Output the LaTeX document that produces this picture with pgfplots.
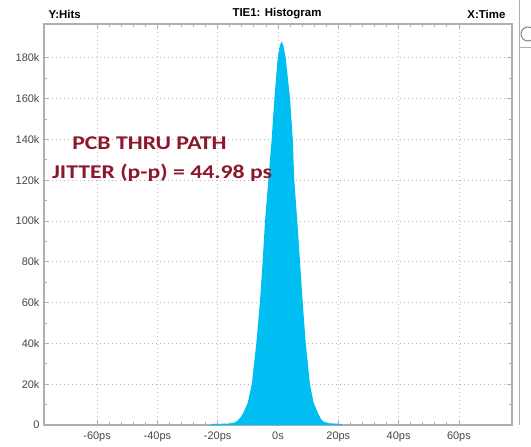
\documentclass[border=0pt]{standalone}
\usepackage{fontspec}
\setmainfont{Liberation Sans}
\newfontfamily\calib{Carlito}
\usepackage{pgfplots}
\pgfplotsset{compat=1.18}
\definecolor{histc}{RGB}{0,190,242}
\definecolor{annot}{RGB}{140,22,42}
\definecolor{axgray}{RGB}{175,175,175}
\definecolor{lblgray}{RGB}{70,70,70}
\begin{document}
\begin{tikzpicture}[x=1bp,y=1bp]
\useasboundingbox (-44bp,-22bp) rectangle (487bp,425bp);
\begin{axis}[at={(0,0)}, anchor=south west, scale only axis,
  width=468bp, height=401bp,
  xmin=-77.6, xmax=77.6, ymin=0, ymax=196600,
  xtick={-60,-40,...,60}, xticklabels={-60ps,-40ps,-20ps,0s,20ps,40ps,60ps},
  ytick={0,20000,...,180000}, yticklabels={0,20k,40k,60k,80k,100k,120k,140k,160k,180k},
  scaled y ticks=false,
  minor x tick num=4, minor y tick num=1,
  tick align=inside, major tick length=5bp, minor tick length=3bp,
  tick style={axgray, line width=0.8bp},
  grid=major, grid style={dash pattern=on 1bp off 3bp, gray!55, line width=0.8bp},
  axis line style={axgray, line width=1.2bp},
  tick label style={font=\fontsize{11}{13}\selectfont, text=lblgray},
  xticklabel style={yshift=-3bp},
  yticklabel style={xshift=-1bp},
]
\addplot[fill=histc, draw=none] coordinates {
(-22.5,0) (-22,500) (-16,700) (-14.5,1200) (-13.7,1800) (-12.5,3500) (-11.5,6000)
(-10,11000) (-8.7,20000) (-7.2,40000) (-6.0,60000) (-5.1,80000) (-4.3,100000)
(-3.2,120000) (-2.1,140000) (-1.2,160000) (-0.1,180000) (0.6,186000) (1.2,188000)
(1.8,186000) (2.55,180000) (4.0,160000) (4.9,140000) (5.4,120000) (6.4,100000)
(7.3,80000) (8.2,60000) (9.2,40000) (10.6,20000) (11.8,11000) (13.2,6000)
(14.2,3000) (15.0,1800) (16.5,900) (21,500) (21.5,0)
} \closedcycle;
\node[anchor=west, text=annot, xscale=1.22, inner sep=0pt, font=\calib\bfseries\fontsize{19.5}{22}\selectfont] at (axis cs:-68.3,138200) {PCB THRU PATH};
\node[anchor=west, text=annot, xscale=1.22, inner sep=0pt, font=\calib\bfseries\fontsize{19.5}{22}\selectfont] at (axis cs:-75.0,123500) {JITTER (p-p) = 44.98 ps};
\end{axis}
\node[anchor=west, font=\bfseries\fontsize{11.5}{13}\selectfont] at (1bp,411bp) {Y:Hits};
\node[font=\bfseries\fontsize{11.5}{13}\selectfont] at (233bp,411bp) {TIE1: Histogram};
\node[anchor=east, font=\bfseries\fontsize{11.5}{13}\selectfont] at (465bp,411bp) {X:Time};
\draw[axgray, line width=0.8bp] (475bp,425bp) -- (475bp,0bp);
\draw[gray, line width=1bp] (484bp,391bp) circle (7bp);
\draw[axgray, line width=0.8bp] (476bp,378bp) -- (487bp,378bp);
\end{tikzpicture}
\end{document}
